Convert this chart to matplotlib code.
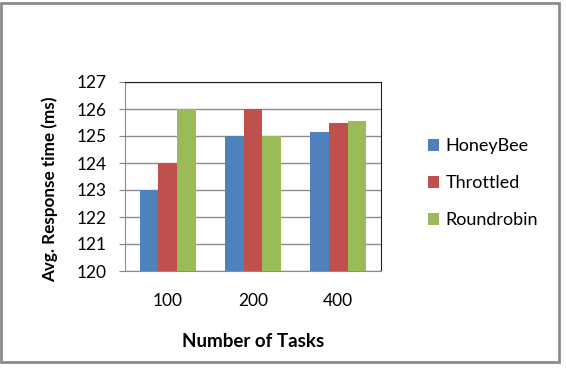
import matplotlib
matplotlib.use("Agg")
import matplotlib.pyplot as plt
import numpy as np
from matplotlib.patches import Rectangle

categories = ["100", "200", "400"]
honeybee = [123, 125, 125.13]
throttled = [124, 126, 125.5]
roundrobin = [126, 125, 125.55]
series_names = ["HoneyBee", "Throttled", "Roundrobin"]
colors = ["#4F81BD", "#C0504D", "#9BBB59"]
yticks = [120, 121, 122, 123, 124, 125, 126, 127]

plt.rcParams['font.family'] = ['Lato', 'DejaVu Sans']

fig = plt.figure(figsize=(5.66, 3.84), dpi=100)
ax = fig.add_axes([125/566, 1-271/384, 256/566, 189/384])

x = np.arange(len(categories))
w = 0.22
handles = []
for i, (vals, name, c) in enumerate(zip([honeybee, throttled, roundrobin], series_names, colors)):
    b = ax.bar(x + (i-1)*w, [v - 120 for v in vals], w, bottom=120, color=c, label=name, zorder=3)
    handles.append(b)

ax.set_xlim(-0.5, 2.5)
ax.set_ylim(120, 127)
ax.set_yticks(yticks)
ax.set_yticklabels([str(t) for t in yticks], fontsize=12.5)
ax.set_xticks(x)
ax.set_xticklabels(categories, fontsize=12.5)
ax.tick_params(axis='y', length=4, color='#888888', direction='out', pad=9)
ax.tick_params(axis='x', length=0, pad=16)
ax.yaxis.grid(True, color='#8c8c8c', linewidth=1, zorder=0)
ax.set_axisbelow(True)
for s in ['left', 'bottom']:
    ax.spines[s].set_color('#8c8c8c')
for s in ['top', 'right']:
    ax.spines[s].set_color('#222222')
ax.set_ylabel("Avg. Response time (ms)", fontsize=12.3, fontweight='bold')
ax.yaxis.set_label_coords(-0.262, 0.434)
ax.set_xlabel("Number of Tasks", fontsize=13.5, fontweight='bold')
ax.xaxis.set_label_coords(0.5, -0.33)

leg = fig.legend(handles=handles, labels=series_names, loc='upper left',
                 bbox_to_anchor=(421/566, 1-131/384), frameon=False, fontsize=13,
                 handlelength=0.6, handleheight=0.6, handletextpad=0.35, labelspacing=1.17,
                 borderaxespad=0)

fig.patches.append(Rectangle((1/566, 1-362/384), 558/566, 359/384, transform=fig.transFigure,
                             fill=False, edgecolor='#8c8c8c', linewidth=2))

fig.savefig("out.png", dpi=100)
